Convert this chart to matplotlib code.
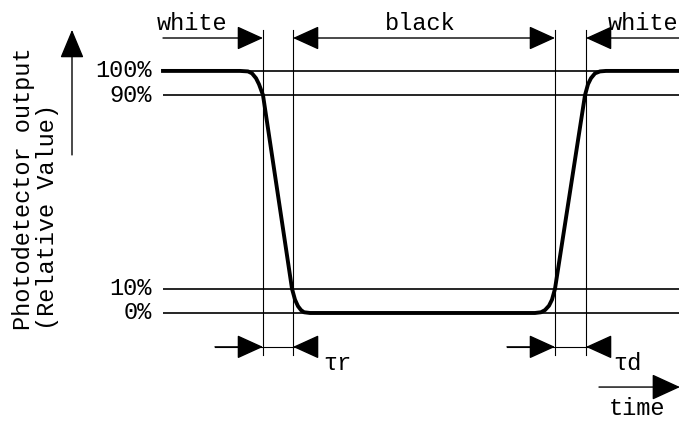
import matplotlib.pyplot as plt

# waveform of the photodetector output (time in arbitrary units, output in %)
time = [163, 240, 248, 252, 256, 259, 263, 292, 295, 298, 301, 304, 310,
        535, 541, 545, 549, 552, 555, 585, 588, 591, 595, 600, 606, 679]
output = [100, 100, 99.8, 99, 97, 94.5, 90, 10, 5.5, 2.8, 1.2, 0.3, 0,
          0, 0.3, 1.2, 3, 5.5, 10, 90, 94.5, 97, 99, 99.8, 100, 100]

levels = [100, 90, 10, 0]
level_labels = ['100%', '90%', '10%', '0%']

# 90% / 10% crossing times of the falling and rising edges
t_fall = [263, 293]
t_rise = [555, 586]

FONT = 'Liberation Mono'

fig = plt.figure(figsize=(6.79, 4.23), dpi=100)
ax = fig.add_axes([0, 0, 1, 1])
ax.set_xlim(0, 679)
ax.set_ylim(-45.45, 129.3)
ax.axis('off')

# reference levels
for lv, lab in zip(levels, level_labels):
    ax.plot([163, 679], [lv, lv], color='black', lw=1.2, solid_capstyle='butt')
    ax.text(152, lv, lab, ha='right', va='center', fontsize=17,
            family=FONT)

# edge markers
for t in t_fall + t_rise:
    ax.plot([t, t], [-17.4, 116.9], color='black', lw=0.8)

# the signal
ax.plot(time, output, color='black', lw=2.8, solid_joinstyle='round')

head = dict(arrowstyle='-|>,head_length=1.1,head_width=0.5',
            mutation_scale=15, color='black', lw=1.0,
            shrinkA=0, shrinkB=0)
dhead = dict(head, arrowstyle='<|-|>,head_length=1.1,head_width=0.5')

# top: white / black / white intervals
y_top = 113.6
ax.annotate('', xy=(t_fall[0], y_top), xytext=(163, y_top), arrowprops=head)
ax.annotate('', xy=(t_rise[0], y_top), xytext=(t_fall[1], y_top),
            arrowprops=dhead)
ax.annotate('', xy=(t_rise[1], y_top), xytext=(679, y_top), arrowprops=head)
ax.text(157, 116.9, 'white', fontsize=17, family=FONT, va='baseline')
ax.text(385, 116.9, 'black', fontsize=17, family=FONT, va='baseline')
ax.text(608, 116.9, 'white', fontsize=17, family=FONT, va='baseline')

# bottom: tau r / tau d
y_tau = -14.0
for (a, b), lab in zip([t_fall, t_rise], ['τr', 'τd']):
    ax.plot([a - 48, b + 23], [y_tau, y_tau], color='black', lw=0.8)
    ax.annotate('', xy=(a, y_tau), xytext=(a - 48, y_tau), arrowprops=head)
    ax.annotate('', xy=(b, y_tau), xytext=(b + 23, y_tau), arrowprops=head)
    ax.text(b + 30 if lab == 'τr' else b + 27, -23.6, lab, fontsize=17,
            family=FONT, va='baseline')

# time arrow
ax.annotate('', xy=(680, -30.6), xytext=(599, -30.6), annotation_clip=False,
            arrowprops=dict(head, arrowstyle='-|>,head_length=1.2,head_width=0.55'))
ax.text(609, -42.1, 'time', fontsize=17, family=FONT, va='baseline')

# output axis arrow
ax.annotate('', xy=(72, 117.0), xytext=(72, 65.3),
            arrowprops=dict(head, arrowstyle='-|>,head_length=1.2,head_width=0.5'))
ax.text(24, -7.0, 'Photodetector output', rotation=90, ha='center',
        va='bottom', fontsize=17, family=FONT)
ax.text(48, -7.0, '(Relative Value)', rotation=90, ha='center',
        va='bottom', fontsize=17, family=FONT)

fig.savefig('out.png', dpi=100)
